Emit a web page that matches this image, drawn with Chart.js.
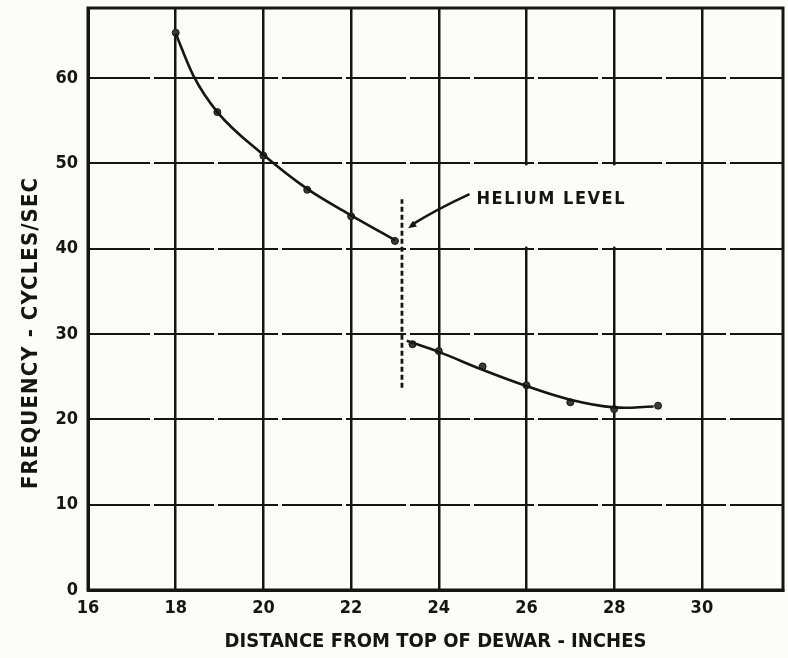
<!DOCTYPE html>
<html><head><meta charset="utf-8">
<script src="https://cdn.jsdelivr.net/npm/chart.js@4"></script>
<style>html,body{margin:0;padding:0;background:#fcfcfa;}</style>
</head><body>
<canvas id="c" width="788" height="658"></canvas>
<script>
// ---- data ----
const xTicks = [16, 18, 20, 22, 24, 26, 28, 30];
const yTicks = [0, 10, 20, 30, 40, 50, 60];
const aboveX = [18, 18.95, 20, 21, 22, 23];
const aboveY = [65.3, 56.0, 50.9, 46.9, 43.8, 40.9];
const aboveCurveX = [18, 18.4, 18.95, 20, 21, 22, 23];
const aboveCurveY = [65.2, 60.3, 56.0, 51.0, 47.0, 43.9, 41.0];
const belowX = [23.4, 24, 25, 26, 27, 28, 29];
const belowY = [28.8, 28.0, 26.2, 24.0, 22.0, 21.2, 21.6];
const belowCurveX = [23.27, 24, 25, 26, 27, 28, 28.9];
const belowCurveY = [29.2, 27.9, 25.8, 23.9, 22.3, 21.4, 21.5];
const heliumX = [23.16, 23.16];
const heliumY = [23.7, 45.8];
const xTitle = "DISTANCE FROM TOP OF DEWAR - INCHES";
const yTitle = "FREQUENCY - CYCLES/SEC";
const noteText = "HELIUM LEVEL";

const INK = '#151515';
const BG = '#fcfcfa';
const FAM = "'DejaVu Sans Condensed','DejaVu Sans',sans-serif";

const pts = (xs, ys) => xs.map((v, i) => ({x: v, y: ys[i]}));

function spacedText(ctx, text, width) {
  ctx.letterSpacing = '0px';
  const w = ctx.measureText(text).width;
  const sp = Math.max(0, (width - w) / (text.length - 1));
  ctx.letterSpacing = sp.toFixed(2) + 'px';
}

const decor = {
  id: 'decor',
  beforeDraw(chart) {
    const {ctx} = chart;
    ctx.save(); ctx.fillStyle = BG; ctx.fillRect(0, 0, chart.width, chart.height); ctx.restore();
  },
  beforeDatasetsDraw(chart) {
    const {ctx, chartArea: a, scales: {x, y}} = chart;
    ctx.save();
    ctx.fillStyle = BG;
    const l = x.getPixelForValue(24) + 2, r = x.getPixelForValue(30) - 2;
    const t = y.getPixelForValue(50) + 2, b = y.getPixelForValue(40) - 2;
    ctx.fillRect(l, t, r - l, b - t);
    ctx.strokeStyle = INK; ctx.lineWidth = 3;
    ctx.strokeRect(a.left, a.top, a.right - a.left, a.bottom - a.top);
    ctx.restore();
  },
  afterDatasetsDraw(chart) {
    const {ctx, scales: {x, y}} = chart;
    ctx.save();
    // annotation text
    ctx.fillStyle = INK;
    ctx.font = "bold 18px " + FAM;
    ctx.textBaseline = 'middle'; ctx.textAlign = 'left';
    spacedText(ctx, noteText, 148);
    ctx.fillText(noteText, x.getPixelForValue(24.86), y.getPixelForValue(45.8));
    ctx.letterSpacing = '0px';
    // arrow
    const sx = x.getPixelForValue(24.70), sy = y.getPixelForValue(46.4);
    const cx = x.getPixelForValue(23.94), cy = y.getPixelForValue(44.6);
    const tx = x.getPixelForValue(23.30), ty = y.getPixelForValue(42.4);
    ctx.strokeStyle = INK; ctx.lineWidth = 2.5;
    ctx.beginPath(); ctx.moveTo(sx, sy); ctx.quadraticCurveTo(cx, cy, tx + 3, ty - 3); ctx.stroke();
    const ang = Math.atan2(ty - cy, tx - cx);
    ctx.beginPath();
    ctx.moveTo(tx, ty);
    ctx.lineTo(tx - 9 * Math.cos(ang - 0.4), ty - 9 * Math.sin(ang - 0.4));
    ctx.lineTo(tx - 9 * Math.cos(ang + 0.4), ty - 9 * Math.sin(ang + 0.4));
    ctx.closePath(); ctx.fill();
    ctx.restore();
  },
  afterDraw(chart) {
    const {ctx} = chart;
    ctx.save();
    ctx.fillStyle = INK;
    ctx.font = "bold 22px " + FAM;
    ctx.translate(31, 333); ctx.rotate(-Math.PI / 2);
    ctx.textAlign = 'center'; ctx.textBaseline = 'middle';
    spacedText(ctx, yTitle, 311);
    ctx.fillText(yTitle, 0, 0);
    ctx.restore();
  }
};

new Chart(document.getElementById('c'), {
  type: 'scatter',
  data: {
    datasets: [
      {label: 'curve above', type: 'line', data: pts(aboveCurveX, aboveCurveY), borderColor: INK, borderWidth: 2.6,
       pointRadius: 0, cubicInterpolationMode: 'monotone', fill: false},
      {label: 'curve below', type: 'line', data: pts(belowCurveX, belowCurveY), borderColor: INK, borderWidth: 2.6,
       pointRadius: 0, tension: 0.4, fill: false},
      {label: 'helium level', type: 'line', data: pts(heliumX, heliumY), borderColor: INK, borderWidth: 2.8,
       borderDash: [5, 3], pointRadius: 0, fill: false},
      {label: 'above', data: pts(aboveX, aboveY), pointRadius: 3.5, backgroundColor: '#3a3a3a', borderColor: INK, borderWidth: 1},
      {label: 'below', data: pts(belowX, belowY), pointRadius: 3.5, backgroundColor: '#3a3a3a', borderColor: INK, borderWidth: 1}
    ]
  },
  options: {
    responsive: false, animation: false,
    layout: {padding: {top: 8, right: 4, left: 0, bottom: 0}},
    plugins: {legend: {display: false}, tooltip: {enabled: false}},
    scales: {
      x: {
        type: 'linear', min: 16, max: 31.85,
        afterBuildTicks: s => { s.ticks = xTicks.map(v => ({value: v})); },
        afterFit: s => { s.height = 68; s.paddingLeft = 0; s.paddingRight = 0; },
        grid: {color: INK, lineWidth: 2.5, drawTicks: false},
        border: {color: INK, width: 3},
        ticks: {color: INK, padding: 8, font: {family: FAM, size: 18, weight: 'bold'}, maxRotation: 0},
        title: {display: true, text: xTitle, color: INK, padding: {top: 0, bottom: 4},
                font: {family: FAM, size: 20, weight: 'bold'}}
      },
      y: {
        type: 'linear', min: 0, max: 68.2,
        afterBuildTicks: s => { s.ticks = yTicks.map(v => ({value: v})); },
        afterFit: s => { s.width = 88; s.paddingTop = 0; s.paddingBottom = 0; },
        grid: {color: INK, lineWidth: 2, drawTicks: false},
        border: {color: INK, width: 3, dash: [60, 4]},
        ticks: {color: INK, padding: 10, font: {family: FAM, size: 18, weight: 'bold'}}
      }
    }
  },
  plugins: [decor]
});
</script>
</body></html>
